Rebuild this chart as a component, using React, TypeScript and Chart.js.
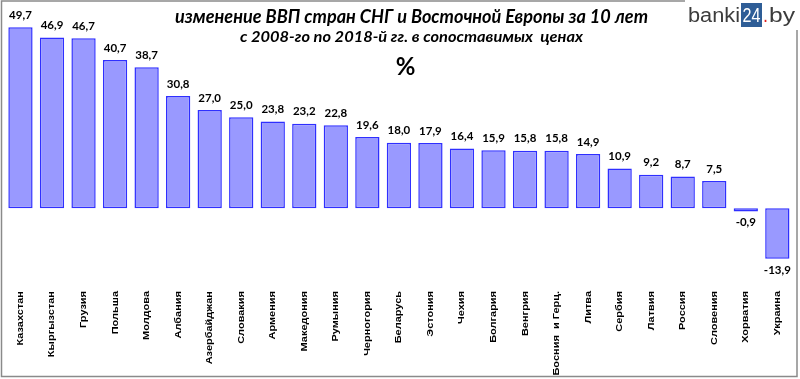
import React, { useEffect, useRef } from "react";
import { Chart, registerables } from "chart.js";

Chart.register(...registerables);

const categories: string[] = [
  "Казахстан", "Кыргызстан", "Грузия", "Польша", "Молдова", "Албания",
  "Азербайджан", "Словакия", "Армения", "Македония", "Румыния", "Черногория",
  "Беларусь", "Эстония", "Чехия", "Болгария", "Венгрия", "Босния  и Герц.",
  "Литва", "Сербия", "Латвия", "Россия", "Словения", "Хорватия", "Украина",
];

const values: number[] = [
  49.7, 46.9, 46.7, 40.7, 38.7, 30.8, 27.0, 25.0, 23.8, 23.2, 22.8, 19.6,
  18.0, 17.9, 16.4, 15.9, 15.8, 15.8, 14.9, 10.9, 9.2, 8.7, 7.5, -0.9, -13.9,
];

const titleLine1 = "изменение ВВП стран СНГ и Восточной Европы за 10 лет";
const titleLine2 = "с 2008-го по 2018-й гг. в сопоставимых  ценах";
const unitLabel = "%";
const logoParts = ["banki", "24", ".", "by"];

const fmt = (v: number) => v.toFixed(1).replace(".", ",");

function fitText(ctx: CanvasRenderingContext2D, text: string, cx: number, cy: number, font: string, width: number, align: CanvasTextAlign = "center") {
  ctx.save();
  ctx.font = font;
  const w = ctx.measureText(text).width;
  ctx.translate(cx, cy);
  ctx.scale(width / w, 1);
  ctx.textAlign = align;
  ctx.textBaseline = "middle";
  ctx.fillText(text, 0, 0);
  ctx.restore();
}

const decorPlugin = {
  id: "decor",
  beforeDraw(chart: any) {
    const ctx = chart.ctx as CanvasRenderingContext2D;
    ctx.save();
    ctx.fillStyle = "#ffffff";
    ctx.fillRect(0, 0, chart.width, chart.height);
    ctx.restore();
  },
  afterDraw(chart: any) {
    const ctx = chart.ctx as CanvasRenderingContext2D;
    ctx.save();
    ctx.strokeStyle = "#8a8a8a";
    ctx.lineWidth = 1.5;
    ctx.beginPath();
    ctx.moveTo(685, 1);
    ctx.lineTo(1.5, 1);
    ctx.lineTo(1.5, 376.5);
    ctx.lineTo(797, 376.5);
    ctx.lineTo(797, 30);
    ctx.stroke();
    ctx.restore();

    ctx.save();
    ctx.fillStyle = "#000000";
    fitText(ctx, titleLine1, 411.5, 17, "italic bold 19px Lato", 473);
    fitText(ctx, titleLine2, 411.5, 37, "italic bold 16px Lato", 343);
    ctx.font = "bold 24px Lato";
    ctx.textAlign = "center";
    ctx.textBaseline = "middle";
    ctx.fillText(unitLabel, 405.5, 67);
    ctx.restore();

    ctx.save();
    ctx.fillStyle = "#3c3c3c";
    fitText(ctx, logoParts[0], 688, 16, "20px 'Liberation Sans'", 52, "left");
    ctx.fillStyle = "#2e5d96";
    ctx.fillRect(741, 3, 21, 24);
    ctx.fillStyle = "#ffffff";
    fitText(ctx, logoParts[1], 751.5, 16, "20px 'Liberation Sans'", 18);
    ctx.fillStyle = "#e02020";
    fitText(ctx, logoParts[2], 763, 16, "20px 'Liberation Sans'", 5, "left");
    ctx.fillStyle = "#3c3c3c";
    fitText(ctx, logoParts[3], 769, 16, "20px 'Liberation Sans'", 26, "left");
    ctx.restore();
  },
  afterDatasetsDraw(chart: any) {
    const ctx = chart.ctx as CanvasRenderingContext2D;
    const meta = chart.getDatasetMeta(0);
    const xScale = chart.scales.x;
    const area = chart.chartArea;
    ctx.save();
    ctx.fillStyle = "#000000";
    ctx.font = "bold 11.5px Lato";
    ctx.textAlign = "center";
    ctx.textBaseline = "middle";
    meta.data.forEach((el: any, i: number) => {
      const v = values[i];
      const y = v >= 0 ? el.y - 12 : el.y + 11;
      ctx.fillText(fmt(v), el.x, y);
    });
    categories.forEach((c, i) => {
      const x = xScale.getPixelForValue(i);
      ctx.save();
      ctx.translate(x, area.bottom + 3);
      ctx.rotate(-Math.PI / 2);
      ctx.scale(1.22, 1);
      ctx.font = "bold 9px 'Liberation Sans'";
      ctx.textAlign = "right";
      ctx.textBaseline = "middle";
      ctx.fillText(c, 0, 0);
      ctx.restore();
    });
    ctx.restore();
  },
};

export default function App() {
  const ref = useRef<HTMLCanvasElement>(null);

  useEffect(() => {
    let chart: Chart | null = null;
    let cancelled = false;
    const make = () => {
      if (cancelled || !ref.current) return;
      chart = new Chart(ref.current, {
        type: "bar",
        data: {
          labels: categories,
          datasets: [
            {
              data: values,
              backgroundColor: "#9999ff",
              borderColor: "#2f2fff",
              borderWidth: 1.5,
              borderSkipped: false,
              categoryPercentage: 1,
              barPercentage: 0.77,
            },
          ],
        },
        options: {
          responsive: false,
          animation: false,
          devicePixelRatio: 1,
          layout: { padding: { left: 4.7, right: 6.9, top: 8, bottom: 91 } },
          plugins: { legend: { display: false }, tooltip: { enabled: false }, title: { display: false } },
          scales: {
            x: { display: false, grid: { display: false } },
            y: { display: false, min: -21.9, max: 55, grid: { display: false } },
          },
        },
        plugins: [decorPlugin],
      } as any);
    };
    const fonts = ["italic bold 19px Lato", "bold 11px Lato", "bold 24px Lato", "bold 9px 'Liberation Sans'", "20px 'Liberation Sans'"];
    Promise.all(fonts.map((f) => document.fonts.load(f)))
      .catch(() => null)
      .then(make);
    return () => {
      cancelled = true;
      if (chart) chart.destroy();
    };
  }, []);

  return (
    <div style={{ position: "fixed", left: 0, top: 0, width: 800, height: 379, background: "#fff" }}>
      <canvas ref={ref} width={800} height={379} style={{ display: "block", width: 800, height: 379 }} />
    </div>
  );
}
